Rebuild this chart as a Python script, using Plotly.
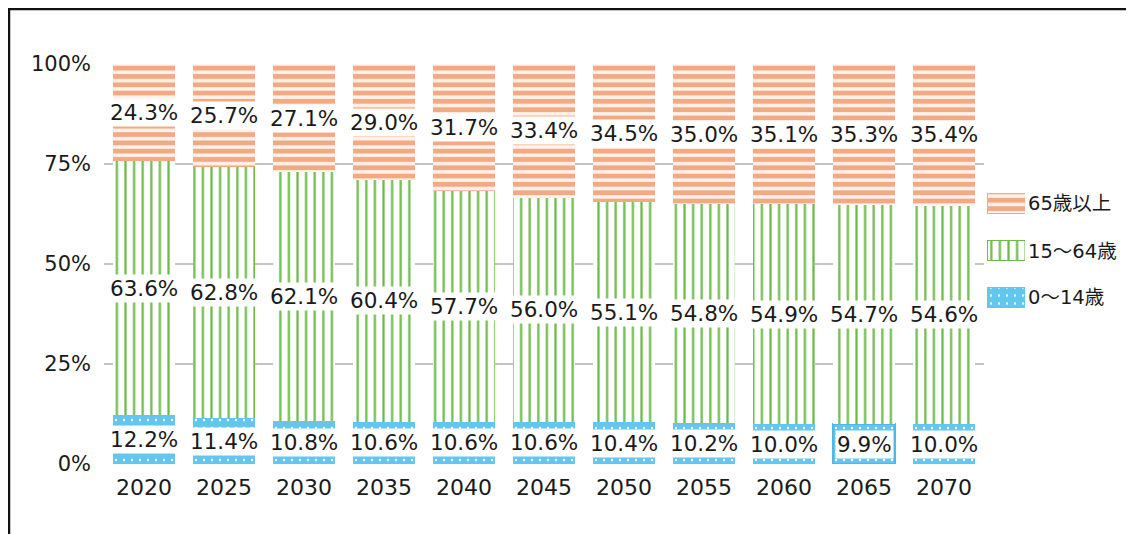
import plotly.graph_objects as go

years = ["2020", "2025", "2030", "2035", "2040", "2045", "2050", "2055", "2060", "2065", "2070"]
age_0_14 = [12.2, 11.4, 10.8, 10.6, 10.6, 10.6, 10.4, 10.2, 10.0, 9.9, 10.0]
age_15_64 = [63.6, 62.8, 62.1, 60.4, 57.7, 56.0, 55.1, 54.8, 54.9, 54.7, 54.6]
age_65 = [24.3, 25.7, 27.1, 29.0, 31.7, 33.4, 34.5, 35.0, 35.1, 35.3, 35.4]
names = ["0～14歳", "15～64歳", "65歳以上"]
selected_index = 9  # point shown with a selection frame in the original

FONT = "DejaVu Sans, Noto Sans CJK JP, sans-serif"
TXT = "#1a1a1a"

series = [age_0_14, age_15_64, age_65]
styles = [
    dict(shape=".", fgcolor="#ffffff", bgcolor="#62C6EF", size=8, solidity=0.07),
    dict(shape="|", fgcolor="#6CBB48", bgcolor="#ffffff", size=8.6, solidity=0.26),
    dict(shape="-", fgcolor="#F3A982", bgcolor="#FFF3EC", size=8.3, solidity=0.58),
]

# page body has an 8px margin; layout numbers below are in window pixels
OFF = 8
PLOT_L, PLOT_R, PLOT_T, PLOT_B = 104, 984, 64, 464
L = PLOT_L - OFF
T = PLOT_T - OFF
PW = 1134 - L           # paper width (right margin 0)
PH = PLOT_B - PLOT_T
B = 534 - T - PH


def px(wx):
    return (wx - PLOT_L) / PW


def py(wy):
    return (PLOT_B - wy) / PH


def pattern(st):
    return dict(shape=st["shape"], fgcolor=st["fgcolor"], bgcolor=st["bgcolor"],
                size=st["size"], solidity=st["solidity"], fillmode="replace")


fig = go.Figure()
for i, (vals, nm, st) in enumerate(zip(series, names, styles)):
    if i == 0:
        lc = ["#4FB8E8" if k == selected_index else "rgba(0,0,0,0)" for k in range(len(years))]
        lw = [2 if k == selected_index else 0 for k in range(len(years))]
        line = dict(color=lc, width=lw)
    else:
        line = dict(width=0)
    fig.add_trace(go.Bar(
        x=years, y=vals, name=nm, showlegend=False,
        marker=dict(color=st["bgcolor"], line=line, pattern=pattern(st)),
        hoverinfo="skip",
    ))

# custom legend swatches (wide rectangles as in the original)
legend_order = [2, 1, 0]  # top to bottom: 65歳以上, 15～64歳, 0～14歳
slot = 47
for i in legend_order:
    st = styles[i]
    fig.add_trace(go.Bar(
        x=[1], y=[names[i]], orientation="h", xaxis="x2", yaxis="y2", showlegend=False,
        width=20 / slot,
        marker=dict(color=st["bgcolor"], line=dict(width=1, color=st["fgcolor"] if i else st["bgcolor"]),
                    pattern=pattern(st)),
        hoverinfo="skip",
    ))

# labels at segment midpoints (normalised to 100%)
annotations = []
for j, yr in enumerate(years):
    tot = sum(s[j] for s in series)
    base = 0.0
    for s in series:
        h = s[j] / tot * 100
        annotations.append(dict(
            x=j, y=base + h / 2, xref="x", yref="y", text=f"{s[j]:.1f}%",
            showarrow=False, bgcolor="#ffffff", borderpad=1,
            font=dict(family=FONT, size=21.5, color=TXT),
        ))
        base += h

leg_centers = [203, 251, 297]
for i, cy in zip(legend_order, leg_centers):
    annotations.append(dict(
        x=px(1026), y=py(cy), xref="paper", yref="paper", xanchor="left", yanchor="middle",
        text=names[i], showarrow=False, font=dict(family=FONT, size=19.5, color=TXT),
    ))

fig.update_layout(
    width=1134, height=534,
    margin=dict(l=L, r=0, t=T, b=B),
    paper_bgcolor="#ffffff", plot_bgcolor="#ffffff",
    barmode="stack", barnorm="percent", bargap=0.22,
    font=dict(family=FONT, color=TXT),
    annotations=annotations,
    showlegend=False,
    xaxis=dict(domain=[0, px(PLOT_R)], type="category", range=[-0.5, len(years) - 0.5],
               showgrid=False, showline=False, ticks="",
               tickfont=dict(family=FONT, size=22, color=TXT), ticklabelstandoff=8),
    yaxis=dict(range=[0, 100], dtick=25, ticksuffix="%", showgrid=True,
               gridcolor="#C4C4C4", gridwidth=2, zeroline=False, showline=False,
               tickfont=dict(family=FONT, size=21, color=TXT), ticklabelstandoff=12),
    xaxis2=dict(domain=[px(987), px(1025)], range=[0, 100], anchor="y2", visible=False),
    yaxis2=dict(domain=[py(leg_centers[-1] + slot / 2), py(leg_centers[0] - slot / 2)],
                anchor="x2", type="category", autorange="reversed", visible=False),
    shapes=[
        dict(type="line", xref="paper", yref="paper", x0=px(4), x1=px(1134),
             y0=py(9), y1=py(9), line=dict(color="#111111", width=2.5)),
        dict(type="line", xref="paper", yref="paper", x0=px(9), x1=px(9),
             y0=py(9), y1=py(545), line=dict(color="#111111", width=2.5)),
    ],
)

fig.write_html("out.html")
